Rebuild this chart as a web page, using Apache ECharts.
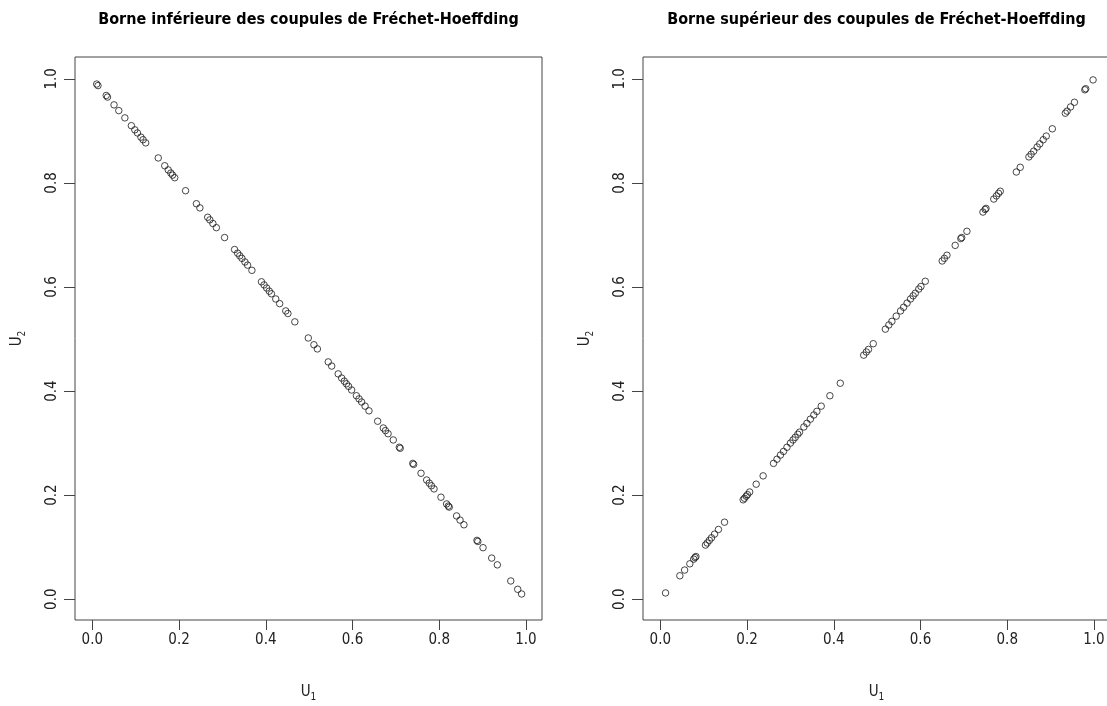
<!DOCTYPE html>
<html>
<head>
<meta charset="utf-8">
<script src="https://cdn.jsdelivr.net/npm/echarts@6/dist/echarts.min.js"></script>
<style>
  html, body { margin: 0; padding: 0; background: #ffffff; }
  #chart { width: 1107px; height: 706px; }
</style>
</head>
<body>
<div id="chart"></div>
<script>
// Panel titles
const titles = [
  'Borne inférieure des coupules de Fréchet-Hoeffding',
  'Borne supérieur des coupules de Fréchet-Hoeffding'
];

// Tick positions shared by both axes of both panels
const tickValues = [0, 0.2, 0.4, 0.6, 0.8, 1.0];

// Sampled U1 values for the lower bound W (points lie on V = 1 - U)
const lowerU1 = [
  0.010, 0.013, 0.032, 0.035, 0.050, 0.061, 0.075, 0.090, 0.098, 0.104,
  0.112, 0.117, 0.123, 0.152, 0.167, 0.175, 0.181, 0.185, 0.190, 0.215,
  0.240, 0.248, 0.266, 0.271, 0.278, 0.286, 0.305, 0.328, 0.335, 0.340,
  0.345, 0.352, 0.358, 0.368, 0.390, 0.396, 0.402, 0.408, 0.413, 0.423,
  0.432, 0.446, 0.451, 0.467, 0.498, 0.511, 0.519, 0.544, 0.552, 0.567,
  0.575, 0.581, 0.586, 0.591, 0.598, 0.609, 0.615, 0.621, 0.629, 0.638,
  0.658, 0.671, 0.676, 0.682, 0.694, 0.708, 0.710, 0.739, 0.741, 0.758,
  0.771, 0.777, 0.782, 0.788, 0.804, 0.817, 0.821, 0.823, 0.840, 0.848,
  0.857, 0.887, 0.889, 0.901, 0.921, 0.934, 0.965, 0.981, 0.990
];

// Sampled U1 values for the upper bound M (points lie on V = U)
const upperU1 = [
  0.012, 0.045, 0.056, 0.068, 0.077, 0.080, 0.082, 0.104, 0.108, 0.113,
  0.118, 0.125, 0.134, 0.148, 0.191, 0.194, 0.198, 0.201, 0.206, 0.221,
  0.237, 0.261, 0.269, 0.277, 0.284, 0.292, 0.300, 0.306, 0.311, 0.317,
  0.321, 0.331, 0.338, 0.346, 0.354, 0.361, 0.371, 0.391, 0.415, 0.469,
  0.475, 0.480, 0.491, 0.519, 0.527, 0.534, 0.544, 0.554, 0.561, 0.569,
  0.577, 0.583, 0.588, 0.596, 0.601, 0.611, 0.650, 0.655, 0.661, 0.680,
  0.693, 0.695, 0.707, 0.744, 0.749, 0.751, 0.769, 0.775, 0.780, 0.784,
  0.821, 0.830, 0.850, 0.855, 0.861, 0.869, 0.875, 0.883, 0.890, 0.904,
  0.934, 0.938, 0.946, 0.955, 0.979, 0.981, 0.998
];

const FONT = '"Liberation Sans Narrow", "Arial Narrow", "DejaVu Sans Condensed", "Liberation Sans", sans-serif';
const INK = '#222222';
const FRAME = '#444444';

// Pairs for each copula bound
const lowerPoints = lowerU1.map(u => [u, 1 - u]);
const upperPoints = upperU1.map(u => [u, u]);

const gridRects = [
  { left: 75, top: 57, width: 467, height: 563 },
  { left: 643, top: 57, width: 467, height: 563 }
];

function subscriptName(letter, index) {
  return {
    text: '{u|' + letter + '}{s|' + index + '}',
    rich: {
      u: { fontFamily: FONT, fontSize: 15, color: INK, lineHeight: 20, verticalAlign: 'middle' },
      s: { fontFamily: FONT, fontSize: 10, color: INK, lineHeight: 20, verticalAlign: 'bottom', padding: [9, 0, 0, 0] }
    }
  };
}

function makeXAxis(gi) {
  const nm = subscriptName('U', 1);
  return {
    gridIndex: gi,
    type: 'value',
    min: -0.040,
    max: 1.037,
    axisLine: { show: false, onZero: false },
    splitLine: { show: false },
    axisTick: { show: true, inside: false, length: 10, customValues: tickValues, lineStyle: { color: FRAME, width: 1 } },
    axisLabel: {
      customValues: tickValues,
      formatter: v => v.toFixed(1),
      margin: 13,
      fontFamily: FONT,
      fontSize: 15,
      color: INK
    },
    name: nm.text,
    nameLocation: 'middle',
    nameGap: 62,
    nameTextStyle: { rich: nm.rich }
  };
}

function makeYAxis(gi) {
  const nm = subscriptName('U', 2);
  return {
    gridIndex: gi,
    type: 'value',
    min: -0.040,
    max: 1.042,
    axisLine: { show: false, onZero: false },
    splitLine: { show: false },
    axisTick: { show: true, inside: false, length: 11, customValues: tickValues, lineStyle: { color: FRAME, width: 1 } },
    axisLabel: {
      customValues: tickValues,
      formatter: v => v.toFixed(1),
      rotate: 90,
      margin: 15,
      fontFamily: FONT,
      fontSize: 15,
      color: INK
    },
    name: nm.text,
    nameLocation: 'middle',
    nameRotate: 90,
    nameGap: 48,
    nameTextStyle: { rich: nm.rich }
  };
}

const circleStyle = {
  color: 'rgba(0,0,0,0)',
  borderColor: '#1a1a1a',
  borderWidth: 1
};

const chart = echarts.init(document.getElementById('chart'), null, { renderer: 'canvas' });

chart.setOption({
  backgroundColor: '#ffffff',
  animation: false,
  grid: gridRects.map(r => Object.assign({
    show: true,
    borderColor: FRAME,
    borderWidth: 1,
    backgroundColor: 'transparent',
    containLabel: false,
    outerBoundsMode: 'none'
  }, r)),
  xAxis: [makeXAxis(0), makeXAxis(1)],
  yAxis: [makeYAxis(0), makeYAxis(1)],
  graphic: titles.map((t, i) => ({
    type: 'text',
    x: gridRects[i].left + gridRects[i].width / 2,
    y: 20,
    style: {
      text: t,
      align: 'center',
      verticalAlign: 'middle',
      fontFamily: FONT,
      fontWeight: 'bold',
      fontSize: 16,
      fill: '#000000'
    }
  })),
  series: [
    {
      type: 'scatter',
      xAxisIndex: 0,
      yAxisIndex: 0,
      data: lowerPoints,
      symbol: 'circle',
      symbolSize: 6.5,
      itemStyle: circleStyle,
      emphasis: { disabled: true }
    },
    {
      type: 'scatter',
      xAxisIndex: 1,
      yAxisIndex: 1,
      data: upperPoints,
      symbol: 'circle',
      symbolSize: 6.5,
      itemStyle: circleStyle,
      emphasis: { disabled: true }
    }
  ]
});
</script>
</body>
</html>
